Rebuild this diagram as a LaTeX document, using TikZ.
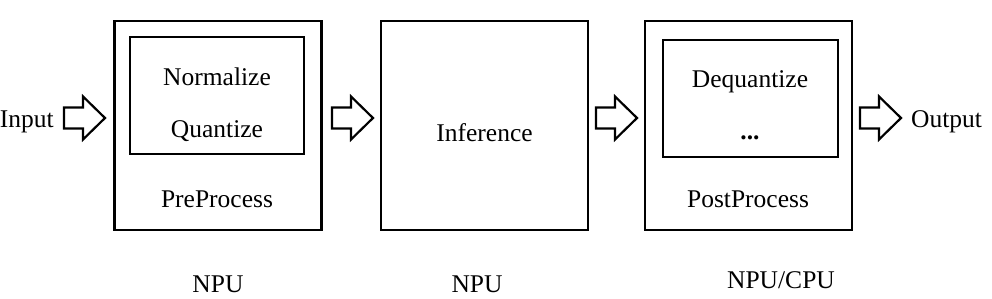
\documentclass[tikz,border=0pt]{standalone}
\usepackage{fontspec}
\setmainfont{Liberation Serif}
\begin{document}
\begin{tikzpicture}[x=1pt,y=-1pt,
  boxline/.style={draw=black,line width=2.6pt,inner sep=0pt,minimum width=#1},
  outerbox/.style={boxline=207pt,minimum height=209pt},
  innerbox/.style={boxline=175pt,minimum height=117pt},
  lbl/.style={inner sep=0pt,anchor=base,font=\fontsize{25.5}{30}\selectfont},
  arrline/.style={draw=black,line width=2.2pt,line join=miter},
  blockarr/.pic={\path[arrline] (0,-10.5) -- (19,-10.5) -- (19,-21.5) -- (41,0) -- (19,21.5) -- (19,10.5) -- (0,10.5) -- cycle;}
]
\useasboundingbox (0,0) rectangle (992,299);
% boxes
\node[outerbox] (box1) at (218,125.5) {};
\node[innerbox,minimum width=174pt] (in1) at (217,95.5) {};
\node[outerbox] (box2) at (484.5,125.5) {};
\node[outerbox] (box3) at (748.5,125.5) {};
\node[innerbox] (in3) at (750.5,98.5) {};
% texts
\node[lbl] (norm) at (217,86) {Normalize};
\node[lbl] (quant) at (217,138) {Quantize};
\node[lbl] (pre) at (217,207) {PreProcess};
\node[lbl] (inf) at (484.5,142) {Inference};
\node[lbl] (deq) at (750,88) {Dequantize};
\node[lbl] (dots) at (750,140) {\textbf{...}};
\node[lbl] (post) at (748,207) {PostProcess};
\node[lbl] (npu1) at (218,292) {NPU};
\node[lbl] (npu2) at (477,292) {NPU};
\node[lbl] (npu3) at (781,288) {NPU/CPU};
\node[lbl,anchor=base east] (input) at (54,128) {Input};
\node[lbl,anchor=base west] (output) at (911,128) {Output};
% block arrows
\coordinate (a0) at (64,118);
\coordinate (a1) at (332,118);
\coordinate (a2) at (596,118);
\coordinate (a3) at (860,118);
\pic at (a0) {blockarr};
\pic at (a1) {blockarr};
\pic at (a2) {blockarr};
\pic at (a3) {blockarr};
\end{tikzpicture}
\end{document}
